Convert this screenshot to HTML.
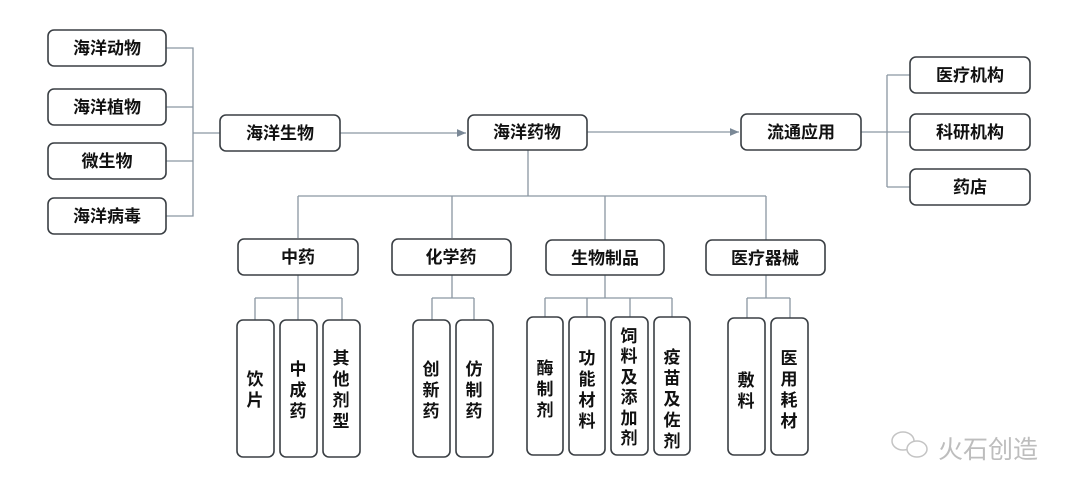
<!DOCTYPE html>
<html><head><meta charset="utf-8"><style>
body{margin:0;background:#fff;width:1080px;height:496px;overflow:hidden}
text{font-family:"Liberation Sans","Noto Sans CJK SC",sans-serif;fill:#111;font-weight:bold}
</style></head><body>
<svg width="1080" height="496" viewBox="0 0 1080 496" xmlns="http://www.w3.org/2000/svg">
<defs><marker id="a" markerWidth="8" markerHeight="8" refX="7" refY="4" orient="auto"><path d="M0,1 L7,4 L0,7 Z" fill="#7a8896"/></marker></defs>
<g stroke="#8a96a2" stroke-width="1.3" fill="none">
<path d="M166,48H193V216H166M166,107H193M166,161H193M193,133H220"/>
<path d="M340,133H466" marker-end="url(#a)"/>
<path d="M587,132H739" marker-end="url(#a)"/>
<path d="M861,132H910M887,75V187M887,75H910M887,187H910"/>
<path d="M528,149V196M298,196H766M298,196V238M452,196V238M605,196V240M766,196V240"/>
<path d="M298,275V298M255,298H342M255,298V320M298,298V320M342,298V320"/>
<path d="M452,275V298M432,298H474M432,298V320M474,298V320"/>
<path d="M605,275V298M545,298H672M545,298V317M587,298V317M630,298V317M672,298V317"/>
<path d="M766,275V298M747,298H790M747,298V318M790,298V318"/>
</g>
<g stroke="#3a3f44" stroke-width="1.6" fill="#fff">
<rect x="48" y="30" width="118" height="36" rx="6"/>
<rect x="48" y="89" width="118" height="36" rx="6"/>
<rect x="48" y="143" width="118" height="36" rx="6"/>
<rect x="48" y="198" width="118" height="36" rx="6"/>
<rect x="220" y="115" width="120" height="36" rx="6"/>
<rect x="468" y="115" width="119" height="35" rx="6"/>
<rect x="741" y="114" width="120" height="36" rx="6"/>
<rect x="910" y="57" width="120" height="36" rx="6"/>
<rect x="910" y="114" width="120" height="36" rx="6"/>
<rect x="910" y="169" width="120" height="36" rx="6"/>
<rect x="238" y="239" width="120" height="36" rx="6"/>
<rect x="392" y="239" width="119" height="36" rx="6"/>
<rect x="546" y="240" width="118" height="35" rx="6"/>
<rect x="706" y="240" width="119" height="35" rx="6"/>
<rect x="237" y="320" width="37" height="137" rx="6"/>
<rect x="280" y="320" width="37" height="137" rx="6"/>
<rect x="323" y="320" width="37" height="137" rx="6"/>
<rect x="413" y="320" width="37" height="137" rx="6"/>
<rect x="456" y="320" width="37" height="137" rx="6"/>
<rect x="527" y="317" width="36" height="138" rx="6"/>
<rect x="569" y="317" width="36" height="138" rx="6"/>
<rect x="611" y="317" width="37" height="138" rx="6"/>
<rect x="654" y="317" width="36" height="138" rx="6"/>
<rect x="728" y="318" width="37" height="137" rx="6"/>
<rect x="771" y="318" width="37" height="137" rx="6"/>
</g>
<g font-size="17" text-anchor="middle">
<text x="107" y="54">海洋动物</text>
<text x="107" y="113">海洋植物</text>
<text x="107" y="167">微生物</text>
<text x="107" y="222">海洋病毒</text>
<text x="280" y="139">海洋生物</text>
<text x="527" y="138">海洋药物</text>
<text x="801" y="138">流通应用</text>
<text x="970" y="81">医疗机构</text>
<text x="970" y="138">科研机构</text>
<text x="970" y="193">药店</text>
<text x="298" y="263">中药</text>
<text x="451" y="263">化学药</text>
<text x="605" y="264">生物制品</text>
<text x="765" y="264">医疗器械</text>
</g>
<g font-size="17" text-anchor="middle">
<text x="255" y="385">饮</text><text x="255" y="406">片</text>
<text x="298" y="375">中</text><text x="298" y="396">成</text><text x="298" y="417">药</text>
<text x="341" y="364">其</text><text x="341" y="385">他</text><text x="341" y="406">剂</text><text x="341" y="427">型</text>
<text x="431" y="375">创</text><text x="431" y="396">新</text><text x="431" y="417">药</text>
<text x="474" y="375">仿</text><text x="474" y="396">制</text><text x="474" y="417">药</text>
<text x="545" y="374">酶</text><text x="545" y="395">制</text><text x="545" y="416">剂</text>
<text x="587" y="364">功</text><text x="587" y="385">能</text><text x="587" y="406">材</text><text x="587" y="427">料</text>
<text x="629" y="342">饲</text><text x="629" y="362">料</text><text x="629" y="383">及</text><text x="629" y="403">添</text><text x="629" y="424">加</text><text x="629" y="444">剂</text>
<text x="672" y="363">疫</text><text x="672" y="384">苗</text><text x="672" y="405">及</text><text x="672" y="426">佐</text><text x="672" y="447">剂</text>
<text x="746" y="386">敷</text><text x="746" y="407">料</text>
<text x="789" y="364">医</text><text x="789" y="385">用</text><text x="789" y="406">耗</text><text x="789" y="427">材</text>
</g>
<g fill="none" stroke="#c4c4c4" stroke-width="1.5">
<ellipse cx="903" cy="441" rx="11" ry="9"/><ellipse cx="917" cy="449" rx="10" ry="8" fill="#fff"/>
</g>
<text x="938" y="458" font-size="25" style="fill:#bdbdbd;font-weight:normal">火石创造</text>
</svg>
</body></html>
